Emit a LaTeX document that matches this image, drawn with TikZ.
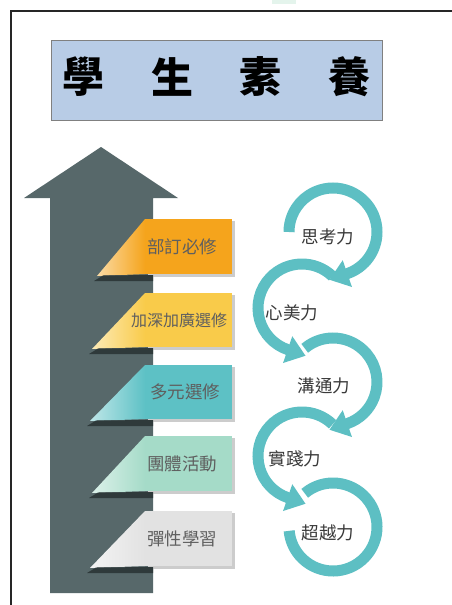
\documentclass[tikz,border=0pt]{standalone}
\usepackage{fontspec}
\newfontfamily\cjk{Noto Sans CJK TC}
\usetikzlibrary{arrows.meta}
\definecolor{arrowgray}{HTML}{57686A}
\definecolor{boxorange}{HTML}{F5A41C}
\definecolor{boxyellow}{HTML}{F9CB4A}
\definecolor{boxteal}{HTML}{5DC1C5}
\definecolor{boxmint}{HTML}{A5DBC8}
\definecolor{boxgray}{HTML}{E2E2E2}
\definecolor{ringcol}{HTML}{5DBFC3}
\definecolor{titlefill}{HTML}{B8CCE6}
\definecolor{titleborder}{HTML}{808080}
\definecolor{foldshadow}{HTML}{2F3A3B}
\definecolor{boxtxt}{HTML}{5F5F5F}
\definecolor{ringtxt}{HTML}{3A3A3A}
\definecolor{faintmint}{HTML}{E4F4EC}
\newcommand\tagbox[8]{%
  \fill[black!20] (148,#2+2) rectangle (235,#3+3);
  \fill[#4] (145,#2) rectangle (232,#3);
  \shade[left color=#4!40!white, right color=#4] (145,#2) -- (145,#3) -- (#6,#3+2) -- cycle;
  \fill[foldshadow] (#6-3,#3+7) -- (#6+6,#3+1.5) -- (153,#3+1) -- (153,#3+7) -- cycle;
  \node[boxtext, font=\cjk\fontsize{#8}{#8}\selectfont] (#1) at (#5,{(#2+#3)/2}) {#7};
}
\begin{document}
\begin{tikzpicture}[x=1pt,y=-1pt,
  boxtext/.style={text=boxtxt, inner sep=0pt},
  ringtext/.style={font=\cjk\fontsize{17.5}{20}\selectfont, text=ringtxt, inner sep=0pt},
  ring/.style={draw=ringcol, line width=11pt},
  ringtip/.style={-{Triangle[width=27pt,length=19pt]}},
  titlechar/.style={font=\cjk\bfseries\fontsize{42}{46}\selectfont, inner sep=0pt}]
\useasboundingbox (0,0) rectangle (452,605);
\fill[white] (0,0) rectangle (452,605);
% frame
\fill[faintmint] (272,0) rectangle (296,4);
\draw[line width=1.2pt, black!85] (11,605) -- (11,11) -- (452,11);
% title
\node[draw=titleborder, fill=titlefill, line width=1pt, minimum width=331pt, minimum height=80pt, inner sep=0pt] (title) at (216.5,80) {};
\node[titlechar] (t1) at (83,77) {學};
\node[titlechar] (t2) at (172,77) {生};
\node[titlechar] (t3) at (260,77) {素};
\node[titlechar] (t4) at (349,77) {養};
% big arrow
\fill[arrowgray] (50,593) -- (50,198) -- (24,198) -- (101,147) -- (178,198) -- (153,198) -- (153,593) -- cycle;
% tag boxes
\tagbox{b1}{219}{274}{boxorange}{182}{97}{部訂必修}{17.5}
\tagbox{b2}{293}{347}{boxyellow}{179}{92}{加深加廣選修}{16}
\tagbox{b3}{365}{419}{boxteal}{185}{90}{多元選修}{17.5}
\tagbox{b4}{436}{491}{boxmint}{182}{92}{團體活動}{17.5}
\tagbox{b5}{511}{566}{boxgray}{182}{90}{彈性學習}{17.5}
% rings
\draw[ring, ringtip] (333,232) ++(-180:44) arc[start angle=-180, end angle=71, radius=44] -- ++({-19*sin(71)},{19*cos(71)});
\draw[ring, ringtip] (302,308) ++(-46:44) arc[start angle=-46, end angle=-251, radius=44] -- ++({19*sin(-251)},{-19*cos(-251)});
\draw[ring, ringtip] (333,382) ++(-130:44) arc[start angle=-130, end angle=71, radius=44] -- ++({-19*sin(71)},{19*cos(71)});
\draw[ring, ringtip] (302,456) ++(-46:44) arc[start angle=-46, end angle=-251, radius=44] -- ++({19*sin(-251)},{-19*cos(-251)});
\draw[ring] (333,527) ++(-130:44) arc[start angle=-130, end angle=175, radius=44];
\node[ringtext] (r1) at (328,237) {思考力};
\node[ringtext] (r2) at (292,313) {心美力};
\node[ringtext] (r3) at (324,386) {溝通力};
\node[ringtext] (r4) at (295,459) {實踐力};
\node[ringtext] (r5) at (328,533) {超越力};
\end{tikzpicture}
\end{document}
